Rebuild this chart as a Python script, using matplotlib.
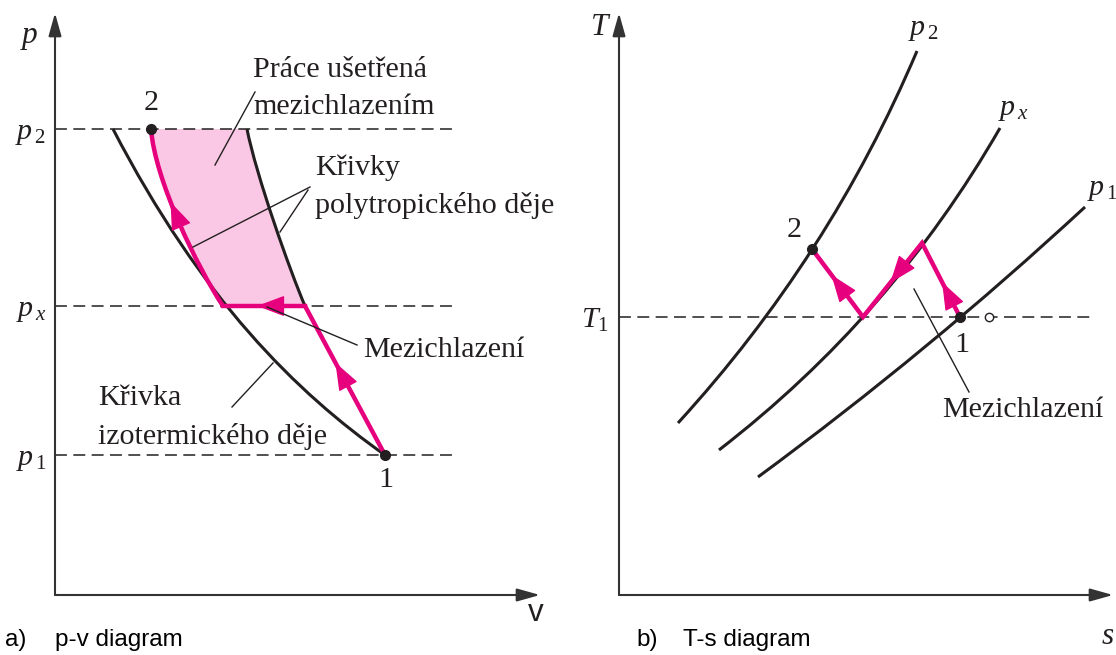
import numpy as np
import matplotlib.pyplot as plt
from matplotlib.path import Path
from matplotlib.patches import PathPatch
from matplotlib.bezier import BezierSegment

plt.rcParams['font.family'] = 'Liberation Serif'
plt.rcParams['mathtext.fontset'] = 'custom'
plt.rcParams['mathtext.rm'] = 'Liberation Serif'
plt.rcParams['mathtext.it'] = 'Liberation Serif:italic'

PINK = '#e6007e'
FILL = '#fac8e4'
INK = '#231f20'
FS = 21.6

# ---- p-v diagram (schematic units) ----
p_levels = [46.6, 28.9, 14.0]                     # p2, px, p1
p_names = [r'$p_{\,2}$', r'$p_{\,x}$', r'$p_{\,1}$']
pv_dash_end = 39.7
pv_state2 = (9.6, 46.6)
pv_state1 = (33.0, 14.0)
# cubic bezier control points
pv_isotherm = [(5.8, 46.6), (14.6, 29.6), (24.2, 20.2), (33.0, 14.0)]
pv_poly_hi = [(16.8, 28.9), (14.2, 32.8), (10.0, 41.5), (9.6, 46.6)]     # px -> 2
pv_poly_full = [(19.2, 46.6), (20.1, 42.0), (23.5, 32.4), (25.0, 28.9)]  # without intercooling
pv_poly_lo = [(33.0, 14.0), (25.0, 28.9)]                                # 1 -> px
pv_cool = [(25.0, 28.9), (16.8, 28.9)]                                   # intercooler

# ---- T-s diagram (schematic units) ----
T1 = 27.8
ts_dash_end = 47.1
# quadratic bezier control points of the isobars
ts_p2 = [(5.9, 17.2), (21.05, 33.75), (29.8, 54.4)]
ts_px = [(10.0, 14.5), (27.24, 27.81), (38.1, 46.7)]
ts_p1 = [(13.9, 11.8), (31.01, 24.37), (46.6, 38.8)]
ts_process = [(34.1, 27.8), (30.3, 35.2), (24.4, 27.8), (19.3, 34.6)]
ts_open = (37.0, 27.8)

fig = plt.figure(figsize=(11.16, 6.55), dpi=100)
ax1 = fig.add_axes([55 / 1116, 60 / 655, 485 / 1116, 582 / 655])
ax2 = fig.add_axes([619 / 1116, 60 / 655, 494 / 1116, 582 / 655])
ax1.set_xlim(0, 48.5)
ax1.set_ylim(0, 58.2)
ax2.set_xlim(0, 49.4)
ax2.set_ylim(0, 58.2)

arrow_kw = dict(arrowstyle='-|>,head_length=0.8,head_width=0.3', mutation_scale=22,
                color=PINK, lw=1, shrinkA=0, shrinkB=0)


def axis_arrows(ax):
    ax.axis('off')
    kw = dict(arrowstyle='-|>,head_length=1.0,head_width=0.28', mutation_scale=14,
              color='#333333', lw=1.5, shrinkA=0, shrinkB=0)
    ax.annotate('', xy=(0, 1), xytext=(0, 0), xycoords='axes fraction',
                arrowprops=kw, annotation_clip=False)
    ax.annotate('', xy=(1, 0), xytext=(0, 0), xycoords='axes fraction',
                arrowprops=kw, annotation_clip=False)


def bez(ax, pts, **kw):
    codes = [Path.MOVETO] + [Path.CURVE4 if len(pts) == 4 else Path.CURVE3] * (len(pts) - 1)
    ax.add_patch(PathPatch(Path(pts, codes), fill=False, capstyle='butt', **kw))


def head_on_line(ax, a, b, frac):
    a, b = np.asarray(a, float), np.asarray(b, float)
    d = (b - a) / np.linalg.norm(b - a)
    tip = a + frac * (b - a)
    ax.annotate('', xy=tip, xytext=tip - 3.0 * d, arrowprops=arrow_kw)


def leader(ax, a, b):
    ax.plot([a[0], b[0]], [a[1], b[1]], color=INK, lw=1.0, zorder=6)


dash = dict(color=INK, lw=1.1, ls=(0, (7.8, 4.2)), zorder=2)

# ---------------- p-v ----------------
axis_arrows(ax1)
for lev, name in zip(p_levels, p_names):
    ax1.plot([0, pv_dash_end], [lev, lev], **dash)
    ax1.text(-0.9, lev - 0.5, name, fontsize=FS, ha='right', va='center', color=INK)

fill_pts = pv_poly_hi[::-1] + [pv_cool[0]] + pv_poly_full[::-1][1:] + [pv_poly_hi[-1]]
fill_codes = ([Path.MOVETO] + [Path.CURVE4] * 3 + [Path.LINETO] + [Path.CURVE4] * 3
              + [Path.CLOSEPOLY])
ax1.add_patch(PathPatch(Path(fill_pts, fill_codes), facecolor=FILL, edgecolor='none', zorder=1))

bez(ax1, pv_isotherm, edgecolor=INK, lw=2.2, zorder=3)
bez(ax1, pv_poly_full, edgecolor=INK, lw=2.2, zorder=3)
bez(ax1, pv_poly_hi, edgecolor=PINK, lw=3.2, zorder=4)
ax1.plot(*zip(*pv_poly_lo), color=PINK, lw=3.2, zorder=4, solid_capstyle='round')
ax1.plot(*zip(*pv_cool), color=PINK, lw=3.2, zorder=4)

seg = BezierSegment(np.array(pv_poly_hi))
ax1.annotate('', xy=seg.point_at_t(0.6), xytext=seg.point_at_t(0.42), arrowprops=arrow_kw, zorder=5)
head_on_line(ax1, pv_cool[0], pv_cool[1], 0.585)
head_on_line(ax1, pv_poly_lo[0], pv_poly_lo[1], 0.62)

ax1.plot(*zip(pv_state2, pv_state1), 'o', color=INK, ms=7, zorder=6)
ax1.text(9.6, 49.2, '2', fontsize=FS, ha='center', va='center', color=INK)
ax1.text(33.1, 11.5, '1', fontsize=FS, ha='center', va='center', color=INK)
ax1.text(-2.5, 56.0, 'p', fontsize=FS + 1, style='italic', ha='center', va='center', color=INK)
ax1.text(48.1, -1.8, 'v', fontsize=FS + 1, family='Liberation Sans', ha='center', va='center',
         color=INK)

ax1.text(19.8, 52.5, 'Práce ušetřená', fontsize=FS, va='center', color=INK)
ax1.text(19.8, 48.8, 'mezichlazením', fontsize=FS, va='center', color=INK)
leader(ax1, (20.0, 50.3), (16.0, 43.0))
ax1.text(26.0, 42.7, 'Křivky', fontsize=FS, va='center', color=INK)
ax1.text(26.0, 39.0, 'polytropického děje', fontsize=FS, va='center', color=INK)
leader(ax1, (25.5, 40.8), (13.8, 34.8))
leader(ax1, (25.3, 40.5), (22.5, 36.3))
ax1.text(30.8, 24.5, 'Mezichlazení', fontsize=FS, va='center', color=INK)
leader(ax1, (30.2, 25.0), (21.2, 28.8))
ax1.text(4.3, 19.7, 'Křivka', fontsize=FS, va='center', color=INK)
ax1.text(4.3, 15.8, 'izotermického děje', fontsize=FS, va='center', color=INK)
leader(ax1, (17.7, 18.8), (21.8, 23.2))

# ---------------- T-s ----------------
axis_arrows(ax2)
ax2.plot([0, ts_dash_end], [T1, T1], **dash)
ax2.text(-1.0, T1 - 0.3, r'$T_1$', fontsize=FS, ha='right', va='center', color=INK)

for pts in (ts_p2, ts_px, ts_p1):
    bez(ax2, pts, edgecolor=INK, lw=2.2, zorder=3)
ax2.plot(*zip(*ts_process), color=PINK, lw=3.2, zorder=4, solid_joinstyle='miter')
for (a, b), f in zip(zip(ts_process[:-1], ts_process[1:]), (0.47, 0.54, 0.62)):
    head_on_line(ax2, a, b, f)

ax2.plot(*zip(ts_process[-1], ts_process[0]), 'o', color=INK, ms=7, zorder=6)
ax2.plot(*ts_open, 'o', mfc='white', mec=INK, ms=6, mew=1.0, zorder=6)
ax2.text(17.5, 36.5, '2', fontsize=FS, ha='center', va='center', color=INK)
ax2.text(34.3, 25.0, '1', fontsize=FS, ha='center', va='center', color=INK)
ax2.text(28.9, 56.5, r'$p_{\,2}$', fontsize=FS, ha='left', va='center', color=INK)
ax2.text(37.9, 48.5, r'$p_{\,x}$', fontsize=FS, ha='left', va='center', color=INK)
ax2.text(46.8, 40.5, r'$p_{\,1}$', fontsize=FS, ha='left', va='center', color=INK)
ax2.text(-1.9, 56.8, 'T', fontsize=FS + 1, style='italic', ha='center', va='center', color=INK)
ax2.text(48.9, -4.2, 's', fontsize=FS + 1, style='italic', ha='center', va='center', color=INK)
ax2.text(32.3, 18.5, 'Mezichlazení', fontsize=FS, va='center', color=INK)
leader(ax2, (29.5, 30.6), (35.0, 20.3))

# captions
cap = dict(family='Liberation Sans', fontsize=17.5, va='center', color='black')
fig.text(5 / 1116, 1 - 640 / 655, 'a)', **cap)
fig.text(55 / 1116, 1 - 640 / 655, 'p-v diagram', **cap)
fig.text(636 / 1116, 1 - 640 / 655, 'b)', **cap)
fig.text(683 / 1116, 1 - 640 / 655, 'T-s diagram', **cap)

fig.savefig('out.png', dpi=100)
